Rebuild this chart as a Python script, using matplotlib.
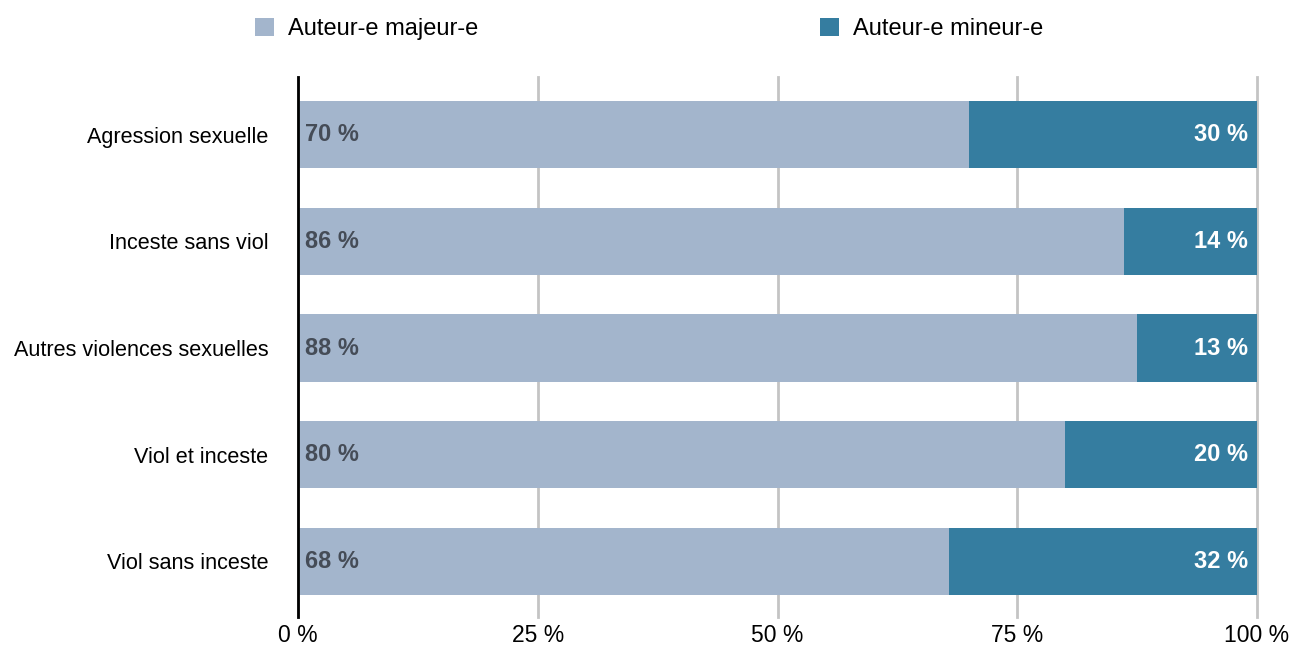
import matplotlib
matplotlib.use("Agg")
import matplotlib.pyplot as plt
from matplotlib.patches import Patch

categories = ["Agression sexuelle", "Inceste sans viol", "Autres violences sexuelles",
              "Viol et inceste", "Viol sans inceste"]
majeur = [70.0, 86.1, 87.5, 80.0, 67.9]
mineur = [30.0, 13.9, 12.5, 20.0, 32.1]
majeur_labels = ["70 %", "86 %", "88 %", "80 %", "68 %"]
mineur_labels = ["30 %", "14 %", "13 %", "20 %", "32 %"]
xticks = [0, 25, 50, 75, 100]
xticklabels = ["0 %", "25 %", "50 %", "75 %", "100 %"]
series_names = ["Auteur-e majeur-e", "Auteur-e mineur-e"]

FONT = ["Liberation Sans Narrow", "Liberation Sans", "DejaVu Sans"]
plt.rcParams["font.family"] = FONT

c_maj = "#a3b5cc"
c_min = "#357da0"

fig = plt.figure(figsize=(12.93, 6.48), dpi=100)
ax = fig.add_axes([298/1293, 1-617/648, (1257-298)/1293, (617-77)/648])

y = list(range(len(categories)))
ax.barh(y, majeur, height=0.628, color=c_maj, zorder=2)
ax.barh(y, mineur, left=majeur, height=0.628, color=c_min, zorder=2)

for i in y:
    ax.text(0.75, i, majeur_labels[i], ha="left", va="center", fontsize=17,
            fontweight="bold", color="#454c57", zorder=3)
    ax.text(99.1, i, mineur_labels[i], ha="right", va="center", fontsize=17,
            fontweight="bold", color="white", zorder=3)

ax.set_xlim(0, 100)
ax.set_ylim(4.52, -0.539)
ax.set_yticks(y)
ax.set_yticklabels(categories, fontsize=15.6)
ax.set_xticks(xticks)
ax.set_xticklabels(xticklabels, fontsize=16.5)
ax.tick_params(axis="y", length=0, pad=21.5)
ax.tick_params(axis="x", length=0, pad=5)

for s in ["top", "right", "bottom"]:
    ax.spines[s].set_visible(False)
ax.spines["left"].set_linewidth(2)
ax.spines["left"].set_color("black")
ax.spines["left"].set_zorder(4)
ax.grid(axis="x", color="#c4c4c4", linewidth=2, zorder=1)
ax.set_axisbelow(True)
for gl in ax.get_xgridlines():
    gl.set_clip_on(False)

handles = [Patch(facecolor=c_maj), Patch(facecolor=c_min)]
leg = fig.legend(handles, series_names, loc="center left", ncol=2,
                 bbox_to_anchor=(234/1293, 1-29/648), frameon=False,
                 fontsize=17, handlelength=0.8, handleheight=0.8,
                 handletextpad=0.6, columnspacing=14.45)

fig.savefig("out.png", dpi=100)
